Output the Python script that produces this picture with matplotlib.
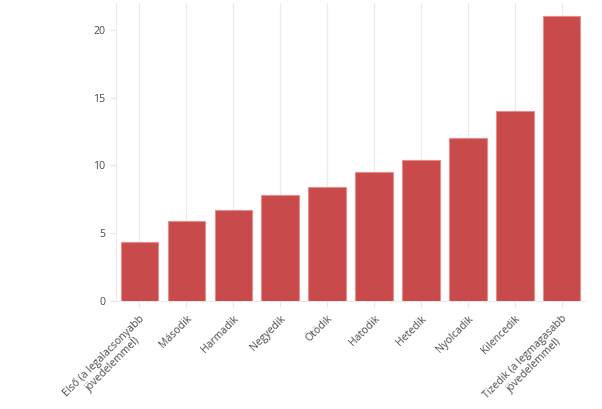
import matplotlib
matplotlib.use("Agg")
import matplotlib.pyplot as plt

categories = ["Első (a legalacsonyabb\njövedelemmel)", "Második", "Harmadik", "Negyedik", "Ötödik",
              "Hatodik", "Hetedik", "Nyolcadik", "Kilencedik", "Tizedik (a legmagasabb\njövedelemmel)"]
values = [4.3, 5.9, 6.7, 7.8, 8.4, 9.5, 10.4, 12.0, 14.0, 21.0]
yticks = [0, 5, 10, 15, 20]

plt.rcParams['font.family'] = ['Open Sans', 'DejaVu Sans']
fig = plt.figure(figsize=(6.02, 4.09), dpi=100)
ax = fig.add_axes([0.1927, 0.2648, 0.7793, 0.7282])
x = range(len(categories))
ax.bar(x, values, width=0.8, color='#c94a4a', edgecolor='#e58c8c', linewidth=0.8, zorder=3)
ax.set_xlim(-0.5, len(categories) - 0.5)
ax.set_ylim(0, 22)
ax.set_yticks(yticks)
ax.set_xticks(list(x))
ax.set_xticklabels(categories, rotation=45, ha='right', rotation_mode='anchor',
                   multialignment='center', fontsize=7.6, color='#4a4a4a')
ax.tick_params(axis='y', labelsize=7.6, labelcolor='#4a4a4a', length=4, color='#e6e6e6', width=0.8)
ax.tick_params(axis='x', length=4, color='#e6e6e6', width=0.8, pad=5)
ax.grid(axis='x', color='#ebebeb', linewidth=0.9, zorder=0)
for s in ['top', 'right']:
    ax.spines[s].set_visible(False)
ax.spines['left'].set_color('#ebebeb')
ax.spines['bottom'].set_color('#ebebeb')
fig.savefig('out.png', dpi=100)
